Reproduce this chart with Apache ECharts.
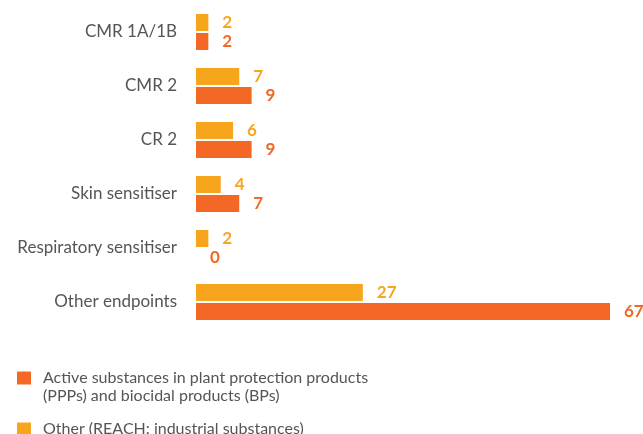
<!DOCTYPE html>
<html>
<head>
<meta charset="utf-8">
<script src="https://cdn.jsdelivr.net/npm/echarts@6/dist/echarts.min.js"></script>
<style>
  html, body { margin: 0; padding: 0; background: #fff; }
</style>
</head>
<body>
<div id="chart" style="width: 643px; height: 434px"></div>
<script>
// categories top to bottom
const categories = ["CMR 1A/1B", "CMR 2", "CR 2", "Skin sensitiser", "Respiratory sensitiser", "Other endpoints"];
const reachValues = [2, 7, 6, 4, 2, 27];
const activeValues = [2, 9, 9, 7, 0, 67];

const activeName = "Active substances in plant protection products\n(PPPs) and biocidal products (BPs)";
const reachName = "Other (REACH: industrial substances)";

const yellow = "#F7A51C";
const orange = "#F26824";
const font = "Lato";

const chart = echarts.init(document.getElementById("chart"));

function valueLabel(color) {
  return {
    show: true,
    position: "right",
    distance: 14,
    color: color,
    fontFamily: font,
    fontWeight: "bold",
    fontSize: 17
  };
}

const legendText = { color: "#555", fontFamily: font, fontSize: 16, lineHeight: 18, padding: [0, 0, 0, 7] };

const option = {
  animation: false,
  grid: { left: 196, right: 33, top: 5, height: 324, containLabel: false },
  xAxis: {
    type: "value",
    min: 0,
    max: 67,
    show: false
  },
  yAxis: {
    type: "category",
    data: categories,
    inverse: true,
    axisLine: { show: false },
    axisTick: { show: false },
    axisLabel: { color: "#555", fontFamily: font, fontSize: 17, margin: 19 }
  },
  // two legends so each item can sit where it does in the original
  legend: [
    {
      data: [activeName],
      // blank first line keeps the square level with the first text line
      formatter: name => " \n" + name,
      left: 17,
      top: 351,
      padding: 0,
      icon: "rect",
      itemWidth: 14,
      itemHeight: 13,
      selectedMode: false,
      textStyle: legendText
    },
    {
      data: [reachName],
      left: 17,
      top: 420,
      padding: 0,
      icon: "rect",
      itemWidth: 14,
      itemHeight: 13,
      selectedMode: false,
      textStyle: legendText
    }
  ],
  series: [
    {
      name: reachName,
      type: "bar",
      data: reachValues,
      barWidth: 17,
      barGap: "12%",
      itemStyle: { color: yellow },
      label: valueLabel(yellow)
    },
    {
      name: activeName,
      type: "bar",
      data: activeValues,
      barWidth: 17,
      itemStyle: { color: orange },
      label: valueLabel(orange)
    }
  ]
};

chart.setOption(option);
</script>
</body>
</html>
